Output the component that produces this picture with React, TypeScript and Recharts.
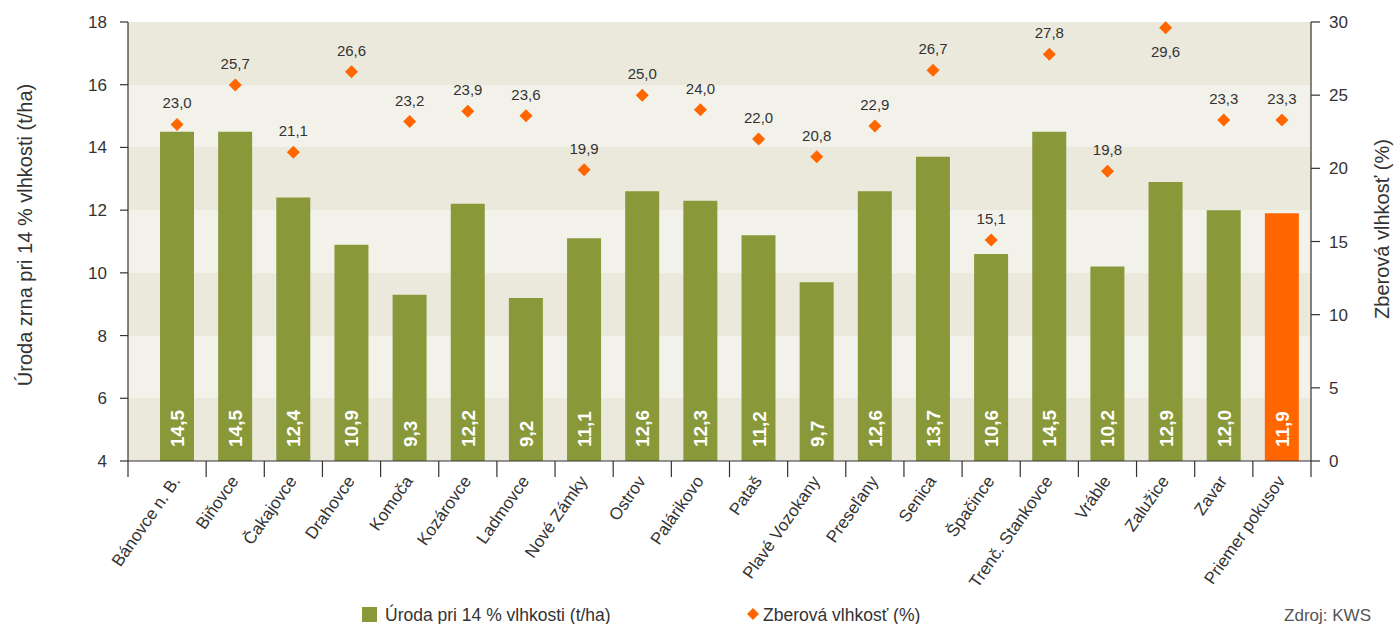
import { ComposedChart, Bar, Line, XAxis, YAxis, Cell, LabelList, CartesianGrid } from 'recharts';

const locations = [
  'Bánovce n. B.', 'Biňovce', 'Čakajovce', 'Drahovce', 'Komoča', 'Kozárovce', 'Ladmovce',
  'Nové Zámky', 'Ostrov', 'Palárikovo', 'Pataš', 'Plavé Vozokany', 'Preseľany', 'Senica',
  'Špačince', 'Trenč. Stankovce', 'Vráble', 'Zalužice', 'Zavar', 'Priemer pokusov',
];
const yieldValues = [14.5, 14.5, 12.4, 10.9, 9.3, 12.2, 9.2, 11.1, 12.6, 12.3, 11.2, 9.7, 12.6, 13.7, 10.6, 14.5, 10.2, 12.9, 12.0, 11.9];
const moistureValues = [23.0, 25.7, 21.1, 26.6, 23.2, 23.9, 23.6, 19.9, 25.0, 24.0, 22.0, 20.8, 22.9, 26.7, 15.1, 27.8, 19.8, 29.6, 23.3, 23.3];
const yieldTicks = [4, 6, 8, 10, 12, 14, 16, 18];
const moistureTicks = [0, 5, 10, 15, 20, 25, 30];
const AVERAGE = 'Priemer pokusov';

const data = locations.map((name, i) => ({ name, yield: yieldValues[i], moisture: moistureValues[i] }));

const GREEN = '#899939';
const ORANGE = '#ff6600';
const TEXT = '#333333';
const FONT = '"Liberation Sans", Arial, sans-serif';

const W = 1394;
const H = 624;
const PLOT_LEFT = 128;
const PLOT_RIGHT = 1311;
const PLOT_TOP = 22;
const PLOT_BOTTOM = 461;
const PAD_LEFT = 20;
const BAND = (PLOT_RIGHT - PLOT_LEFT - PAD_LEFT) / locations.length;

const fmt = (v: number) => v.toFixed(1).replace('.', ',');

function CategoryTick(props: any) {
  const { x, payload, index } = props;
  const edge = x + BAND / 2;
  return (
    <g>
      {index === 0 && (
        <line x1={PLOT_LEFT} x2={PLOT_LEFT} y1={PLOT_BOTTOM} y2={PLOT_BOTTOM + 16} stroke={TEXT} strokeWidth={1.2} />
      )}
      <line x1={edge} x2={edge} y1={PLOT_BOTTOM} y2={PLOT_BOTTOM + 16} stroke={TEXT} strokeWidth={1.2} />
      <text
        transform={`translate(${x + 4},${PLOT_BOTTOM + 20}) rotate(-55)`}
        textAnchor="end"
        fontSize={17}
        fontFamily={FONT}
        fill={TEXT}
      >
        {payload.value}
      </text>
    </g>
  );
}

function BarValue(props: any) {
  const { x, y, width, height, value } = props;
  return (
    <text
      transform={`translate(${x + width / 2 + 7},${y + height - 14}) rotate(-90)`}
      textAnchor="start"
      fontSize={19}
      fontWeight="bold"
      fontFamily={FONT}
      fill="#ffffff"
    >
      {fmt(value)}
    </text>
  );
}

function MoistureValue(props: any) {
  const { x, y, value } = props;
  const below = value > 29;
  return (
    <text x={x} y={below ? y + 29 : y - 16} textAnchor="middle" fontSize={15} fontFamily={FONT} fill={TEXT}>
      {fmt(value)}
    </text>
  );
}

function Diamond(props: any) {
  const { cx, cy, index } = props;
  if (cx == null || cy == null) return null;
  return <path key={`d-${index}`} d={`M${cx},${cy - 6.5}L${cx + 6.5},${cy}L${cx},${cy + 6.5}L${cx - 6.5},${cy}Z`} fill={ORANGE} />;
}

export default function App() {
  return (
    <div style={{ position: 'absolute', left: 0, top: 0, width: W, height: H, background: '#fff' }}>
      <ComposedChart width={W} height={H} data={data} margin={{ top: PLOT_TOP, right: 0, bottom: 0, left: 0 }}>
        <CartesianGrid yAxisId="left" vertical={false} stroke="none" horizontalFill={['#ebe8dc', '#f3f2ea']} fillOpacity={1} />
        <XAxis
          dataKey="name"
          height={H - PLOT_BOTTOM}
          padding={{ left: PAD_LEFT, right: 0 }}
          interval={0}
          tickLine={false}
          axisLine={{ stroke: TEXT, strokeWidth: 1.2 }}
          tick={<CategoryTick />}
        />
        <YAxis
          yAxisId="left"
          width={PLOT_LEFT}
          domain={[4, 18]}
          ticks={yieldTicks}
          interval={0}
          tickSize={8}
          tickMargin={13}
          axisLine={{ stroke: TEXT, strokeWidth: 1.2 }}
          tickLine={{ stroke: TEXT, strokeWidth: 1.2 }}
          tick={{ fontSize: 17, fill: TEXT, fontFamily: FONT }}
          label={{
            content: () => (
              <text transform="translate(32,235) rotate(-90)" textAnchor="middle" fontSize={20} fontFamily={FONT} fill={TEXT}>
                Úroda zrna pri 14 % vlhkosti (t/ha)
              </text>
            ),
          }}
        />
        <YAxis
          yAxisId="right"
          orientation="right"
          width={W - PLOT_RIGHT}
          domain={[0, 30]}
          ticks={moistureTicks}
          interval={0}
          tickSize={9}
          tickMargin={9}
          axisLine={{ stroke: TEXT, strokeWidth: 1.2 }}
          tickLine={{ stroke: TEXT, strokeWidth: 1.2 }}
          tick={{ fontSize: 17, fill: TEXT, fontFamily: FONT }}
          label={{
            content: () => (
              <text transform="translate(1389,229) rotate(-90)" textAnchor="middle" fontSize={20} fontFamily={FONT} fill={TEXT}>
                Zberová vlhkosť (%)
              </text>
            ),
          }}
        />
        <Bar yAxisId="left" dataKey="yield" barSize={34} isAnimationActive={false}>
          {data.map((d) => (
            <Cell key={d.name} fill={d.name === AVERAGE ? ORANGE : GREEN} />
          ))}
          <LabelList dataKey="yield" content={<BarValue />} />
        </Bar>
        <Line
          yAxisId="right"
          dataKey="moisture"
          stroke="none"
          dot={<Diamond />}
          activeDot={false}
          isAnimationActive={false}
        >
          <LabelList dataKey="moisture" content={<MoistureValue />} />
        </Line>
      </ComposedChart>
      <svg width={W} height={H} style={{ position: 'absolute', left: 0, top: 0, pointerEvents: 'none' }}>
        <rect x={362} y={607} width={15} height={15} fill={GREEN} />
        <text x={385} y={621} fontSize={17.5} fontFamily={FONT} fill={TEXT}>Úroda pri 14 % vlhkosti (t/ha)</text>
        <path d="M753,608L759,614L753,620L747,614Z" fill={ORANGE} />
        <text x={763} y={621} fontSize={17.5} fontFamily={FONT} fill={TEXT}>Zberová vlhkosť (%)</text>
        <text x={1371} y={621} textAnchor="end" fontSize={17} fontFamily={FONT} fill="#555">Zdroj: KWS</text>
      </svg>
    </div>
  );
}
